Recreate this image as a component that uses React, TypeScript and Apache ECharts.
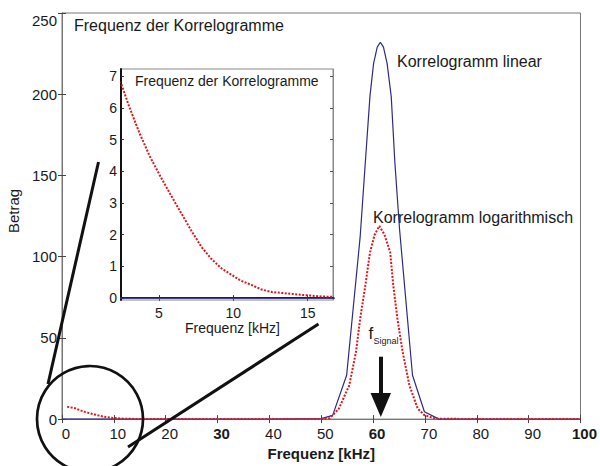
import React, { useEffect, useRef } from "react";
import * as echarts from "echarts";

// ---- data ----
const linFreq = [0, 10, 20, 30, 40, 50, 52.2, 54.9, 57.5, 58.5, 59.4, 60.1, 60.8, 61.4, 62.0, 62.7, 63.5, 64.2, 65.1, 67.6, 69.9, 72.7, 80, 90, 100];
const linMag = [0, 0, 0, 0, 0, 0.3, 2.3, 27, 112, 158, 199, 219, 229, 232, 229, 219, 198.5, 158, 117, 27, 4.5, 0, 0, 0, 0];

const logFreq = [1, 2.5, 3.0, 3.7, 4.4, 5.1, 5.8, 6.45, 7.15, 7.85, 8.5, 9.2, 9.9, 10.5, 11.2, 11.9, 12.6, 13.3, 14.0, 14.6, 15.2, 16.0, 16.7, 20, 30, 40, 50, 51.6, 52.2, 53.4, 55.4, 56.7, 57.5, 58.5, 59.4, 60.3, 61.2, 62.2, 63.3, 63.9, 64.7, 65.7, 67.0, 68.6, 69.9, 72.1, 80, 90, 100];
const logMag = [7.6, 6.72, 6.04, 5.2, 4.46, 3.84, 3.25, 2.72, 2.15, 1.62, 1.25, 0.94, 0.73, 0.55, 0.42, 0.27, 0.19, 0.16, 0.13, 0.10, 0.08, 0.05, 0.04, 0.03, 0.02, 0.02, 0.1, 0.5, 2.4, 6.5, 20.8, 41.3, 61.7, 82.1, 102.6, 113.5, 118.9, 113.5, 102.6, 82.1, 61.7, 41.3, 20.8, 6.5, 2.4, 0.3, 0.02, 0.02, 0.02];

const mainXBoldLabels = [30, 60, 100];
const insetXTicks = [5, 10, 15];
const insetYTicks = [0, 1, 2, 3, 4, 5, 6, 7];

const TITLE = "Frequenz der Korrelogramme";
const X_NAME = "Frequenz [kHz]";
const Y_NAME = "Betrag";
const LABEL_LIN = "Korrelogramm linear";
const LABEL_LOG = "Korrelogramm logarithmisch";

const FONT = "'Liberation Sans', Arial, sans-serif";
const BLUE = "#2d2a86";
const RED = "#e0161b";
const TXT = "#1a1a1a";

const pairs = (xs: number[], ys: number[]) => xs.map((x, i) => [x, ys[i]]);

export default function App() {
  const ref = useRef<HTMLDivElement>(null);
  useEffect(() => {
    if (!ref.current) return;
    const chart = echarts.init(ref.current, undefined, { renderer: "svg" });
    const linData = pairs(linFreq, linMag);
    const logData = pairs(logFreq, logMag);
    const ink = "#111";
    chart.setOption({
      animation: false,
      backgroundColor: "#fff",
      textStyle: { fontFamily: FONT },
      title: [
        { text: TITLE, left: 74, top: 17, padding: 0, textStyle: { fontSize: 16, fontWeight: "normal", color: TXT, fontFamily: FONT } },
        { text: TITLE, left: 135, top: 74, padding: 0, z: 10, textStyle: { fontSize: 14, fontWeight: "normal", color: TXT, fontFamily: FONT } },
      ],
      grid: [
        { left: 62, top: 13, width: 520, height: 408, show: true, borderColor: "#777", borderWidth: 1, backgroundColor: "transparent" },
        { left: 121, top: 69, width: 212, height: 231, show: true, borderColor: "#888", borderWidth: 1, backgroundColor: "#fff", z: 5 },
      ],
      xAxis: [
        {
          type: "value", gridIndex: 0, min: 0, max: 100, interval: 10, position: "bottom",
          axisLine: { lineStyle: { color: "#777", width: 1 } },
          axisTick: { inside: true, length: 4, lineStyle: { color: "#444" } },
          splitLine: { show: false },
          axisLabel: {
            fontSize: 15, color: TXT, margin: 7, padding: [0, 0, 0, 8],
            formatter: (v: number) => (mainXBoldLabels.includes(v) ? `{b|${v}}` : `${v}`),
            rich: { b: { fontWeight: "bold", fontSize: 15, color: TXT, fontFamily: FONT } },
          },
          name: X_NAME, nameLocation: "middle", nameGap: 24,
          nameTextStyle: { fontSize: 15, fontWeight: "bold", color: TXT },
        },
        {
          type: "value", gridIndex: 0, min: 0, max: 100, interval: 10, position: "top",
          axisLine: { lineStyle: { color: "#777" } },
          axisTick: { inside: true, length: 4, lineStyle: { color: "#444" } },
          axisLabel: { show: false }, splitLine: { show: false },
        },
        {
          type: "value", gridIndex: 1, min: 2.45, max: 16.7, position: "bottom",
          axisLine: { lineStyle: { color: ink, width: 2 } },
          axisTick: { inside: true, length: 3, customValues: insetXTicks, lineStyle: { color: "#333" } },
          splitLine: { show: false },
          axisLabel: { customValues: insetXTicks, fontSize: 14, color: TXT, margin: 6, fontWeight: "normal" },
          z: 6,
        },
        {
          type: "value", gridIndex: 1, min: 2.45, max: 16.7, position: "top",
          axisLine: { lineStyle: { color: "#888" } },
          axisTick: { inside: true, length: 3, customValues: insetXTicks, lineStyle: { color: "#555" } },
          axisLabel: { show: false }, splitLine: { show: false }, z: 6,
        },
      ],
      yAxis: [
        {
          type: "value", gridIndex: 0, min: 0, max: 250, interval: 50, position: "left",
          axisLine: { show: true, lineStyle: { color: "#777" } },
          axisTick: { show: true, inside: true, length: 4, lineStyle: { color: "#444" } },
          splitLine: { show: false },
          axisLabel: {
            fontSize: 15, color: TXT, margin: 5,
            formatter: (v: number) => (v === 250 ? `{s|${v}}` : `${v}`),
            rich: { s: { fontSize: 15, color: TXT, fontFamily: FONT, padding: [15, 0, 0, 0] } },
          },
        },
        {
          type: "value", gridIndex: 0, min: 0, max: 250, interval: 50, position: "right",
          axisLine: { show: true, lineStyle: { color: "#777" } },
          axisTick: { show: true, inside: true, length: 4, lineStyle: { color: "#444" } },
          axisLabel: { show: false }, splitLine: { show: false },
        },
        {
          type: "value", gridIndex: 1, min: -0.06, max: 7.23, position: "left",
          axisLine: { show: true, lineStyle: { color: ink, width: 2 } },
          axisTick: { show: true, inside: true, length: 3, customValues: insetYTicks, lineStyle: { color: "#333" } },
          splitLine: { show: false },
          axisLabel: { customValues: insetYTicks, fontSize: 14, color: TXT, margin: 4 },
          z: 6,
        },
        {
          type: "value", gridIndex: 1, min: -0.06, max: 7.23, position: "right",
          axisLine: { show: true, lineStyle: { color: "#888" } },
          axisTick: { show: true, inside: true, length: 3, customValues: insetYTicks, lineStyle: { color: "#555" } },
          axisLabel: { show: false }, splitLine: { show: false }, z: 6,
        },
      ],
      series: [
        {
          type: "line", xAxisIndex: 0, yAxisIndex: 0, data: linData, showSymbol: false,
          lineStyle: { color: BLUE, width: 1.2 }, z: 3,
        },
        {
          type: "line", xAxisIndex: 0, yAxisIndex: 0, data: logData, showSymbol: false,
          lineStyle: { color: RED, width: 2, type: [2, 1.5] }, z: 4,
        },
        {
          type: "line", xAxisIndex: 2, yAxisIndex: 2, data: linData, showSymbol: false, clip: true,
          lineStyle: { color: BLUE, width: 1.2 }, z: 7,
        },
        {
          type: "line", xAxisIndex: 2, yAxisIndex: 2, data: logData, showSymbol: false, clip: true,
          lineStyle: { color: RED, width: 2, type: [2, 1.5] }, z: 8,
        },
      ],
      graphic: [
        { type: "text", z: 100, x: 13.5, y: 211, rotation: Math.PI / 2, style: { text: Y_NAME, fontSize: 15, fontWeight: "normal", fontFamily: FONT, fill: TXT, align: "center", verticalAlign: "middle" } },
        { type: "text", z: 100, x: 232.5, y: 328, style: { text: X_NAME, fontSize: 14, fontWeight: "normal", fontFamily: FONT, fill: TXT, align: "center", verticalAlign: "middle" } },
        { type: "circle", z: 100, shape: { cx: 90, cy: 419, r: 53 }, style: { fill: "none", stroke: ink, lineWidth: 2.7 } },
        { type: "line", z: 100, shape: { x1: 48, y1: 384, x2: 98.5, y2: 162 }, style: { stroke: ink, lineWidth: 3 } },
        { type: "line", z: 100, shape: { x1: 128, y1: 447, x2: 318.5, y2: 324 }, style: { stroke: ink, lineWidth: 3 } },
        { type: "rect", z: 100, shape: { x: 379, y: 356.7, width: 4, height: 37 }, style: { fill: ink } },
        { type: "polygon", z: 100, shape: { points: [[370.5, 393], [391, 393], [380.8, 417]] }, style: { fill: ink } },
        { type: "text", z: 100, x: 397, y: 61, style: { text: LABEL_LIN, fontSize: 16, fontFamily: FONT, fill: TXT, verticalAlign: "middle" } },
        { type: "text", z: 100, x: 373, y: 217, style: { text: LABEL_LOG, fontSize: 16, fontFamily: FONT, fill: TXT, verticalAlign: "middle" } },
        { type: "text", z: 100, x: 368.5, y: 333.5, style: { text: "f", fontSize: 17, fontFamily: FONT, fill: TXT, verticalAlign: "middle" } },
        { type: "text", z: 100, x: 373.5, y: 340.5, style: { text: "Signal", fontSize: 9, fontFamily: FONT, fill: TXT, verticalAlign: "middle" } },
      ],
    });
    return () => chart.dispose();
  }, []);
  return <div ref={ref} style={{ width: 600, height: 466, position: "absolute", left: 0, top: 0 }} />;
}
